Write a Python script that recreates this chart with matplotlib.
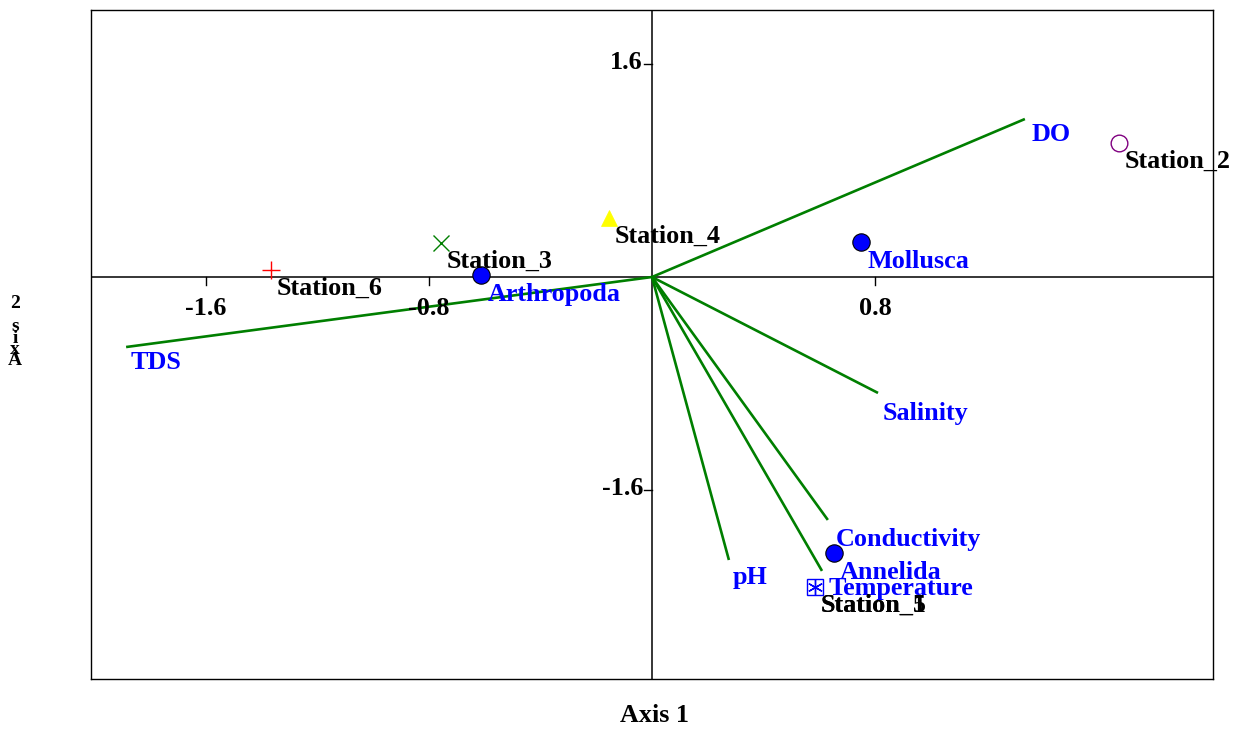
import matplotlib
matplotlib.use("Agg")
import matplotlib.pyplot as plt

plt.rcParams['font.family'] = ['Liberation Serif', 'DejaVu Serif']
plt.rcParams['font.weight'] = 'bold'

# Environmental variables (biplot arrows)
env_names = ["DO", "TDS", "Salinity", "Conductivity", "Temperature", "pH"]
env_x = [1.338, -1.887, 0.811, 0.631, 0.610, 0.276]
env_y = [1.187, -0.526, -0.871, -1.825, -2.208, -2.126]

# Taxa scores
taxa_names = ["Mollusca", "Arthropoda", "Annelida"]
taxa_x = [0.750, -0.613, 0.653]
taxa_y = [0.263, 0.015, -2.073]

# Station scores
station_names = ["Station_1", "Station_2", "Station_3", "Station_4", "Station_5", "Station_6"]
station_x = [0.585, 1.675, -0.757, -0.154, 0.585, -1.367]
station_y = [-2.329, 1.007, 0.255, 0.443, -2.329, 0.053]

x_ticks = [-1.6, -0.8, 0.8]
x_tick_labels = ["-1.6", "-0.8", "0.8"]
y_ticks = [1.6, -1.6]
y_tick_labels = ["1.6", "-1.6"]

W, H = 1236, 729
fig = plt.figure(figsize=(W / 100, H / 100), dpi=100)
ax = fig.add_axes([91 / W, 1 - 679 / H, (1213 - 91) / W, (679 - 10) / H])
ax.set_xlim(-2.013, 2.013)
ax.set_ylim(-3.02, 2.006)
ax.set_xticks([])
ax.set_yticks([])
for s in ax.spines.values():
    s.set_linewidth(1.0)
    s.set_color('black')

# Crossing axes through the origin
ax.axhline(0, color='black', lw=1.1, zorder=1)
ax.axvline(0, color='black', lw=1.1, zorder=1)

fs = 18.8
blue = '#0000ff'
green = '#007f00'

to_px = ax.transData.transform
to_data = ax.transData.inverted().transform

# Ticks and tick labels drawn on the crossing axes
for v, lab in zip(x_ticks, x_tick_labels):
    px = to_px((v, 0))
    y_low = to_data((px[0], px[1] - 8))[1]
    ax.plot([v, v], [0, y_low], color='black', lw=1.0, zorder=1)
    ax.annotate(lab, xy=(v, 0), xytext=(0, -22.5), textcoords='offset points',
                ha='center', va='center', fontsize=fs, fontweight='bold')

for v, lab in zip(y_ticks, y_tick_labels):
    px = to_px((0, v))
    x_left = to_data((px[0] - 8, px[1]))[0]
    ax.plot([x_left, 0], [v, v], color='black', lw=1.0, zorder=1)
    ax.annotate(lab, xy=(0, v), xytext=(-6.5, 1), textcoords='offset points',
                ha='right', va='center', fontsize=fs, fontweight='bold')

# Label offsets (points) for the arrow tips
env_offsets = {
    "DO": (5.0, -11.0),
    "TDS": (3.0, -11.0),
    "Salinity": (3.5, -15.0),
    "Conductivity": (5.5, -14.0),
    "Temperature": (5.0, -12.5),
    "pH": (3.0, -12.5),
}

# Environmental arrows
for name, x, y in zip(env_names, env_x, env_y):
    ax.plot([0, x], [0, y], color=green, lw=1.9, zorder=2, solid_capstyle='butt')
    ax.annotate(name, xy=(x, y), xytext=env_offsets[name], textcoords='offset points',
                ha='left', va='center', fontsize=fs, fontweight='bold', color=blue,
                annotation_clip=False)

# Taxa
for name, x, y in zip(taxa_names, taxa_x, taxa_y):
    ax.plot(x, y, 'o', ms=12.5, mfc=blue, mec='black', mew=0.8, zorder=4)
    ax.annotate(name, xy=(x, y), xytext=(4.5, -14), textcoords='offset points',
                ha='left', va='center', fontsize=fs, fontweight='bold', color=blue,
                annotation_clip=False)

# Stations
station_style = {
    "Station_1": dict(marker='s', ms=11.5, mfc='none', mec=blue, mew=1.0),
    "Station_2": dict(marker='o', ms=12, mfc='none', mec='#800080', mew=1.0),
    "Station_3": dict(marker='x', ms=12, mfc='none', mec='#007f00', mew=1.0),
    "Station_4": dict(marker='^', ms=12, mfc='#ffff00', mec='#ffff00', mew=0.5),
    "Station_5": dict(marker=(6, 2, 0), ms=11, mfc='none', mec=blue, mew=1.0),
    "Station_6": dict(marker='+', ms=13, mfc='none', mec='#ff0000', mew=1.0),
}
for name, x, y in zip(station_names, station_x, station_y):
    ax.plot(x, y, linestyle='none', zorder=5, **station_style[name])
    ax.annotate(name, xy=(x, y), xytext=(4.2, -13.2), textcoords='offset points',
                ha='left', va='center', fontsize=fs, fontweight='bold', color='black',
                annotation_clip=False, zorder=6)

# Axis titles
fig.text(655 / W, 1 - 716 / H, "Axis 1", ha='center', va='center',
         fontsize=fs, fontweight='bold')
label2 = "Axis 2"
y0 = 361
step = 11.4
for i, ch in enumerate(label2):
    if ch == ' ':
        continue
    fig.text(15 / W, 1 - (y0 - i * step) / H, ch, ha='center', va='center',
             fontsize=14, fontweight='bold')

fig.savefig("out.png", dpi=100)
